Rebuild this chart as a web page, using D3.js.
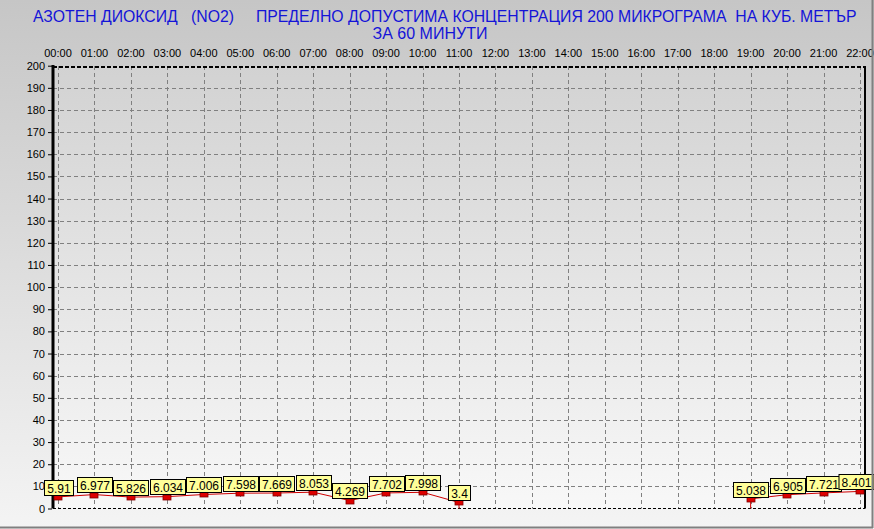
<!DOCTYPE html>
<html><head><meta charset="utf-8">
<script src="https://cdn.jsdelivr.net/npm/d3@7"></script>
<style>html,body{margin:0;padding:0;background:#fff;}svg{display:block;font-family:"Liberation Sans",Arial,sans-serif;}</style>
</head><body>
<script>
const hours = ["00:00","01:00","02:00","03:00","04:00","05:00","06:00","07:00","08:00","09:00","10:00","11:00","12:00","13:00","14:00","15:00","16:00","17:00","18:00","19:00","20:00","21:00","22:00"];
const values = [5.91,6.977,5.826,6.034,7.006,7.598,7.669,8.053,4.269,7.702,7.998,3.4,null,null,null,null,null,null,null,5.038,6.905,7.721,8.401];
const yTicks = d3.range(0,201,10);
const titleLine1 = "АЗОТЕН ДИОКСИД   (NO2)     ПРЕДЕЛНО ДОПУСТИМА КОНЦЕНТРАЦИЯ 200 МИКРОГРАМА  НА КУБ. МЕТЪР";
const titleLine2 = "ЗА 60 МИНУТИ";

const W=874,H=529;
const svg=d3.select("body").append("svg").attr("width",W).attr("height",H);
const defs=svg.append("defs");
const g1=defs.append("linearGradient").attr("id","bg").attr("x1",0).attr("y1",0).attr("x2",0).attr("y2",1);
g1.append("stop").attr("offset","0%").attr("stop-color","#c6c6c6");
g1.append("stop").attr("offset","100%").attr("stop-color","#f4f4f4");
const g2=defs.append("linearGradient").attr("id","pg").attr("x1",0).attr("y1",0).attr("x2",0).attr("y2",1);
g2.append("stop").attr("offset","0%").attr("stop-color","#d2d2d2");
g2.append("stop").attr("offset","100%").attr("stop-color","#f8f8f8");

svg.append("rect").attr("x",0).attr("y",0).attr("width",W).attr("height",H).attr("fill","url(#bg)");

const L=53,R=865,T=66,B=508.5;
const x=d3.scaleLinear().domain([0,22]).range([58,860]);
const y=d3.scaleLinear().domain([0,200]).range([B,65.7]);

svg.append("rect").attr("x",L).attr("y",T).attr("width",R-L).attr("height",B-T).attr("fill","url(#pg)");

// grid
svg.append("g").selectAll("line").data(yTicks.filter(d=>d>0&&d<200)).join("line")
  .attr("x1",L).attr("x2",R).attr("y1",d=>Math.round(y(d))+0.5).attr("y2",d=>Math.round(y(d))+0.5)
  .attr("stroke","#808080").attr("stroke-dasharray","4,3");
svg.append("g").selectAll("line").data(hours).join("line")
  .attr("x1",(d,i)=>Math.round(x(i))+0.5).attr("x2",(d,i)=>Math.round(x(i))+0.5).attr("y1",T).attr("y2",B)
  .attr("stroke","#808080").attr("stroke-dasharray","4,3");

// borders
svg.append("line").attr("x1",L).attr("x2",R).attr("y1",T+1).attr("y2",T+1).attr("stroke","#000").attr("stroke-width",2).attr("stroke-dasharray","4,2");
svg.append("line").attr("x1",L).attr("x2",R).attr("y1",B).attr("y2",B).attr("stroke","#000").attr("stroke-width",1).attr("stroke-dasharray","3,2");
svg.append("line").attr("x1",R).attr("x2",R).attr("y1",T).attr("y2",B).attr("stroke","#000").attr("stroke-width",2);

// y axis
const yAxis=d3.axisLeft(y).tickValues(yTicks).tickSize(4).tickPadding(3).tickFormat(d3.format("d"));
const ya=svg.append("g").attr("transform",`translate(${L-1},0)`).call(yAxis);
ya.select(".domain").remove();
ya.selectAll("text").attr("font-size","11px").attr("fill","#000").attr("font-family","Liberation Sans, Arial, sans-serif");
ya.selectAll(".tick line").attr("stroke","#000");
svg.append("line").attr("x1",L).attr("x2",L).attr("y1",T-1).attr("y2",B).attr("stroke","#000").attr("stroke-width",3);

// top labels
svg.append("g").selectAll("text").data(hours).join("text")
  .attr("x",(d,i)=>x(i)).attr("y",57).attr("text-anchor","middle").attr("font-size","11px").attr("fill","#000").text(d=>d);

// title
svg.append("text").attr("x",33).attr("y",21.5).attr("font-size","15.8px").attr("fill","#1414d8").style("white-space","pre").text(titleLine1);
svg.append("text").attr("x",430).attr("y",39).attr("text-anchor","middle").attr("font-size","16px").attr("fill","#1414d8").style("white-space","pre").text(titleLine2);

// data
const pts=values.map((v,i)=>({i,v}));
const line=d3.line().defined(d=>d.v!=null).x(d=>x(d.i)).y(d=>y(d.v)+1.5);
svg.append("path").datum(pts).attr("d",line).attr("fill","none").attr("stroke","#d00000").attr("stroke-width",1);
// drops at segment ends
const drops=pts.filter((d,k)=>d.v!=null && ((k+1<pts.length && pts[k+1].v==null)||(k>0&&pts[k-1].v==null)));
svg.append("g").selectAll("line").data(drops).join("line")
  .attr("x1",d=>x(d.i)).attr("x2",d=>x(d.i)).attr("y1",d=>y(d.v)+1.5).attr("y2",B)
  .attr("stroke","#d00000").attr("stroke-width",1);

const valid=pts.filter(d=>d.v!=null);
svg.append("g").selectAll("rect").data(valid).join("rect")
  .attr("x",d=>Math.round(x(d.i))-4).attr("y",d=>Math.round(y(d.v)-0.5)).attr("width",8).attr("height",5)
  .attr("fill","#dd0000").attr("stroke","#800000").attr("stroke-width",0.8);

const lab=svg.append("g");
valid.forEach(d=>{
  const gg=lab.append("g");
  const t=gg.append("text").attr("x",0).attr("y",0).attr("text-anchor","middle").attr("font-size","12px").attr("fill","#000").text(String(d.v));
  const tw=t.node().getBBox().width;
  const w=Math.round(tw+5), h=15;
  let bx=Math.round(x(d.i)-w/2)+0.5;
  if (bx+w>874) bx=874-w;
  const by=Math.round(y(d.v)-0.7-h)+0.5;
  gg.insert("rect","text").attr("x",bx).attr("y",by).attr("width",w).attr("height",h).attr("fill","#ffff99").attr("stroke","#000").attr("stroke-width",1);
  t.attr("x",bx+w/2).attr("y",by+12);
});

// frame
svg.append("line").attr("x1",0).attr("x2",873).attr("y1",527.5).attr("y2",527.5).attr("stroke","#808080").attr("stroke-width",2);
svg.append("line").attr("x1",872.5).attr("x2",872.5).attr("y1",0).attr("y2",528).attr("stroke","#808080").attr("stroke-width",2);
</script>
</body></html>
